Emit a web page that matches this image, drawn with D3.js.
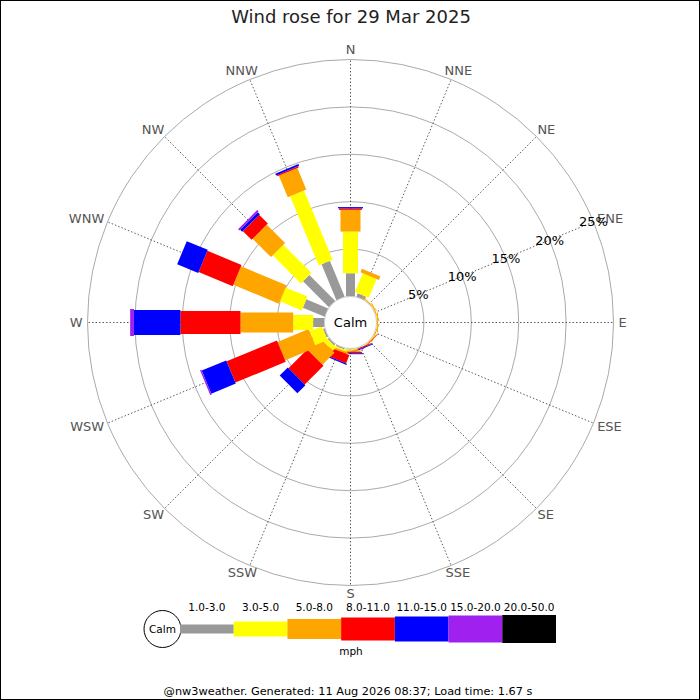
<!DOCTYPE html>
<html><head><meta charset="utf-8">
<script src="https://cdn.jsdelivr.net/npm/d3@7/dist/d3.min.js"></script>
<style>
body{margin:0;background:#fff}
svg{display:block}
text{font-family:"DejaVu Sans",sans-serif}
</style>
</head><body>
<svg id="chart" width="700" height="700"></svg>
<script>
// ---- data ----
const title = "Wind rose for 29 Mar 2025";
const footer = "@nw3weather. Generated: 11 Aug 2026 08:37; Load time: 1.67 s";
const unitLabel = "mph";
const calmLabel = "Calm";
const directions = ["N","NNE","NE","ENE","E","ESE","SE","SSE","S","SSW","SW","WSW","W","WNW","NW","NNW"];
const speedBins = ["1.0-3.0","3.0-5.0","5.0-8.0","8.0-11.0","11.0-15.0","15.0-20.0","20.0-50.0"];
// percentage of time per direction in each speed bin (order follows directions)
const bin1to3   = [2.45,0.40,0.02,0,0,0,0,0,0.10,0.15,0.20,0.20,1.20,2.50,3.87,4.10];
const bin3to5   = [4.40,2.15,0.03,0.05,0.05,0.05,0.05,0.05,0.10,0.15,0.50,1.40,2.10,2.50,4.20,7.90];
const bin5to8   = [2.29,0.40,0.10,0.10,0.10,0.10,0.10,0.05,0.15,0.20,1.80,3.55,5.56,5.20,2.73,2.45];
const bin8to11  = [0.16,0,0,0,0,0,0.05,0.10,0.15,0.93,2.80,5.75,6.34,3.90,1.30,0.15];
const bin11to15 = [0.13,0,0,0,0,0,0,0.10,0.10,0.12,1.20,2.80,4.90,2.40,0.30,0.20];
const bin15to20 = [0,0,0,0,0,0,0,0,0,0,0,0.15,0.40,0,0.20,0];
const bin20to50 = [0,0,0,0,0,0,0,0,0,0,0,0,0,0,0,0];
const pctTicks = [5,10,15,20,25];
const pctTickLabels = ["5%","10%","15%","20%","25%"];

// ---- styles ----
const binColors = ["#999999","#ffff00","#ffa500","#ff0000","#0000ff","#a020f0","#000000"];
const binWidths = [9,15,20,23,25,27,28];

const series = [bin1to3,bin3to5,bin5to8,bin8to11,bin11to15,bin15to20,bin20to50];

const svg = d3.select("#chart");
const cx = 350.5, cy = 322.5;
const calmR = 26;
const r = d3.scaleLinear().domain([0,25]).range([calmR,263]);
const ang = d3.scaleBand().domain(directions).range([0,360]).align(0).paddingInner(0);
const rad = d => (ang(d) - 90) * Math.PI/180;

// border
svg.append("rect").attr("x",0.5).attr("y",0.5).attr("width",699).attr("height",699)
  .attr("fill","none").attr("stroke","#000").attr("stroke-width",1);

// title
svg.append("text").attr("x",351).attr("y",23).attr("text-anchor","middle")
  .attr("font-size",18).attr("fill","#222").text(title);

const g = svg.append("g").attr("transform",`translate(${cx},${cy})`);

// rings
g.selectAll("circle.ring").data(pctTicks).join("circle").attr("class","ring")
  .attr("r",d=>r(d)).attr("fill","none").attr("stroke","#aaa").attr("stroke-width",1);

// direction lines
g.selectAll("line.dir").data(directions).join("line").attr("class","dir")
  .attr("x1",d=>calmR*Math.cos(rad(d))).attr("y1",d=>calmR*Math.sin(rad(d)))
  .attr("x2",d=>r(25)*Math.cos(rad(d))).attr("y2",d=>r(25)*Math.sin(rad(d)))
  .attr("stroke","#333").attr("stroke-width",0.8).attr("stroke-dasharray","1.5,2");

// bars
directions.forEach((dir,i)=>{
  const dg = g.append("g").attr("transform",`rotate(${ang(dir)})`);
  let cum = 0;
  series.forEach((s,b)=>{
    const v = s[i];
    if (v > 0) {
      const r0 = r(cum), r1 = r(cum+v);
      dg.append("rect").attr("x",-binWidths[b]/2).attr("y",-r1)
        .attr("width",binWidths[b]).attr("height",r1-r0).attr("fill",binColors[b]);
    }
    cum += v;
  });
});

// calm circle
g.append("circle").attr("r",calmR).attr("fill","#fff").attr("stroke","#ccc").attr("stroke-width",1);
g.append("text").attr("x",0).attr("y",0).attr("dy","0.35em").attr("text-anchor","middle")
  .attr("font-size",13).attr("fill","#000").text(calmLabel);

// direction labels
const labR = 265;
g.selectAll("text.dl").data(directions).join("text").attr("class","dl")
  .attr("text-anchor","middle").attr("dy","0.35em").attr("font-size",13).attr("fill","#555")
  .text(d=>d)
  .each(function(d){
    const w = this.getComputedTextLength();
    const ux = Math.cos(rad(d)), uy = Math.sin(rad(d));
    const px = labR*ux + ux*(w/2+3);
    const py = labR*uy + uy*(uy > 0 ? 6 : 8);
    d3.select(this).attr("x",px).attr("y",py);
  });

// percent labels along ENE (drawn over direction labels as in reference)
const labDir = "ENE";
g.selectAll("text.pct").data(pctTicks).join("text").attr("class","pct")
  .attr("x",d=>r(d)*Math.cos(rad(labDir))).attr("y",d=>r(d)*Math.sin(rad(labDir)))
  .attr("dy","0.35em").attr("text-anchor","middle").attr("font-size",13).attr("fill","#000")
  .text((d,i)=>pctTickLabels[i]);

// legend
const lx = d3.scaleBand().domain(speedBins).range([180,556]);
const ly = 629;
svg.append("circle").attr("cx",162.5).attr("cy",ly).attr("r",18.5)
  .attr("fill","#fff").attr("stroke","#000").attr("stroke-width",1);
svg.append("text").attr("x",162.5).attr("y",ly).attr("dy","0.35em").attr("text-anchor","middle")
  .attr("font-size",10.5).attr("fill","#000").text(calmLabel);
svg.selectAll("rect.leg").data(speedBins).join("rect").attr("class","leg")
  .attr("x",d=>lx(d)).attr("width",lx.bandwidth())
  .attr("y",(d,i)=>ly-binWidths[i]/2).attr("height",(d,i)=>binWidths[i])
  .attr("fill",(d,i)=>binColors[i]);
svg.selectAll("text.leg").data(speedBins).join("text").attr("class","leg")
  .attr("x",d=>lx(d)+lx.bandwidth()/2).attr("y",611).attr("text-anchor","middle")
  .attr("font-size",10.5).attr("fill","#000").text(d=>d);
svg.append("text").attr("x",351).attr("y",655).attr("text-anchor","middle")
  .attr("font-size",10.5).attr("fill","#000").text(unitLabel);

// footer
svg.append("text").attr("x",348).attr("y",695).attr("text-anchor","middle")
  .attr("font-size",11.3).attr("fill","#000").text(footer);
</script>
</body></html>
